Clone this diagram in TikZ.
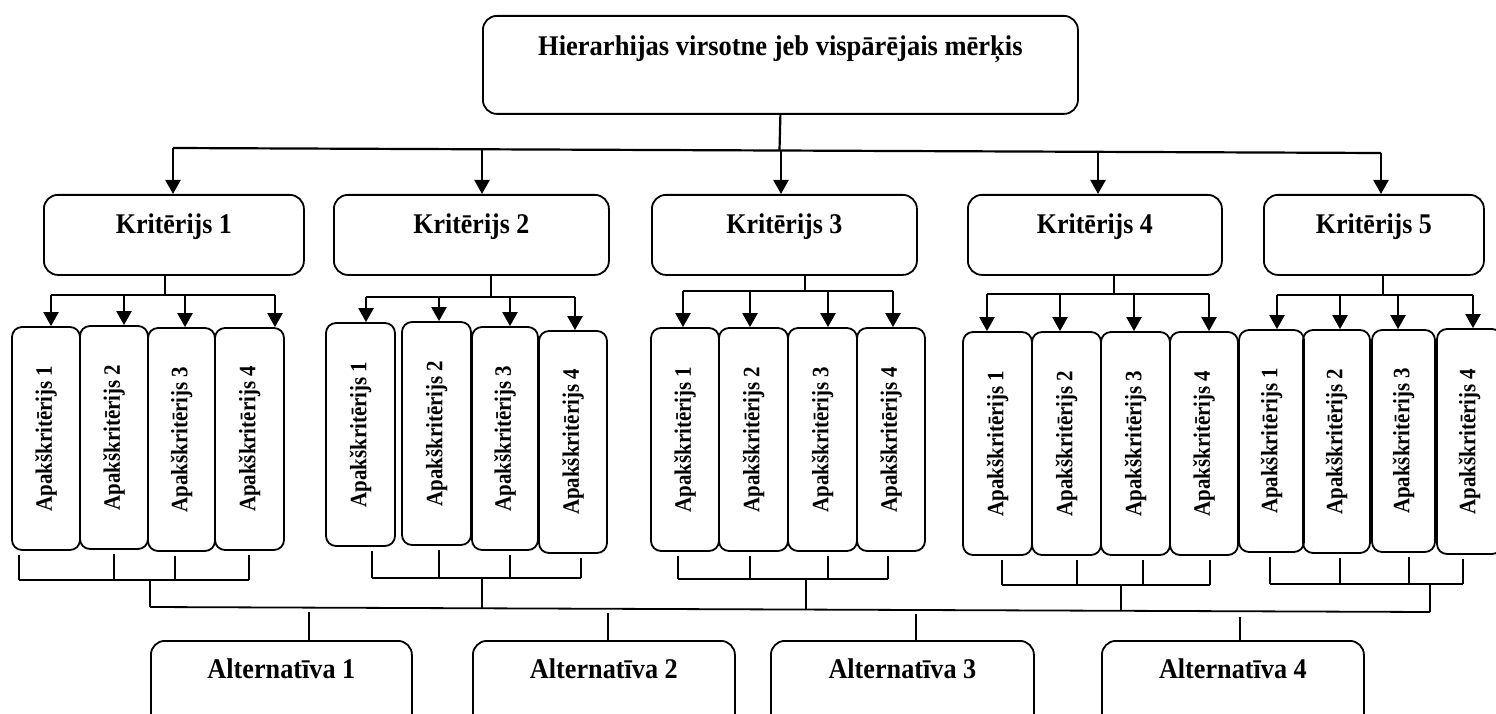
\documentclass[tikz,border=0pt]{standalone}
\usepackage{fontspec}
\usepackage{graphicx}
\setmainfont{Liberation Serif}
\usetikzlibrary{arrows.meta}
% narrow bold lettering used for all labels
\newcommand{\narrow}[2][0.9]{\scalebox{#1}[1]{#2}}
\begin{document}
\begin{tikzpicture}[x=1pt,y=-1pt,
  box/.style={draw, line width=1.8pt, rounded corners=14pt, inner xsep=0pt, inner ysep=0pt,
              anchor=north west, font=\fontsize{28.5}{32}\selectfont\bfseries},
  subbox/.style={draw, line width=1.8pt, rounded corners=10pt, inner sep=0pt, rotate=90,
                 font=\fontsize{23.5}{26}\selectfont\bfseries},
  bus/.style={line width=2.2pt},
  link/.style={line width=1.6pt},
  arr/.style={line width=2.4pt, -{Triangle[length=14pt,width=15pt]}},
]
\useasboundingbox (0,0) rectangle (1496,714);
\clip (0,0) rectangle (1496,714);

% goal
\node[box, minimum width=595pt, text height=40pt, text depth=58pt] (goal) at (482,15)
  {\narrow[0.93]{Hierarhijas virsotne jeb vispārējais mērķis}};

% criteria
\foreach \i/\l/\r in {1/43/303, 2/333/608, 3/651/916, 4/967/1221, 5/1263/1483}
  \node[box, minimum width={(\r-\l)*1pt}, text height=39pt, text depth=41pt] (k\i) at (\l,194)
    {\narrow[0.91]{Kritērijs \i}};

% sub-criteria (left, right, top, bottom)
\foreach \i/\j/\l/\r/\t/\b in {
  1/1/12/80/327/550, 1/2/80/148/326/549, 1/3/148/215/328/551, 1/4/215/284/328/550,
  2/1/326/395/323/546, 2/2/402/471/322/545, 2/3/472/538/327/550, 2/4/539/607/331/553,
  3/1/651/719/328/551, 3/2/719/788/328/551, 3/3/788/857/328/551, 3/4/857/925/328/551,
  4/1/963/1032/332/555, 4/2/1032/1101/332/555, 4/3/1101/1170/332/555, 4/4/1170/1238/332/555,
  5/1/1239/1304/330/552, 5/2/1303/1370/330/553, 5/3/1372/1435/330/552, 5/4/1437/1502/329/554}
  \node[subbox, minimum width={(\b-\t)*1pt}, minimum height={(\r-\l)*1pt}] (s\i\j)
    at ({(\l+\r)/2},{(\t+\b)/2}) {\narrow[0.89]{Apakškritērijs \j}};

% alternatives
\foreach \i/\l/\r in {1/150/411, 2/472/734, 3/770/1033, 4/1101/1363}
  \node[box, minimum width={(\r-\l)*1pt}, text height=38pt, text depth=60pt] (a\i) at (\l,640)
    {\narrow[0.92]{Alternatīva \i}};

% goal -> criteria
\coordinate (tb) at (779.5,150);
\draw[bus] (goal.south) -- (tb);
\foreach \i/\x/\y in {1/173/148, 2/482/149.3, 3/781/150.5, 4/1098/151.8, 5/1381/153}
  \coordinate (t\i) at (\x,\y);
\draw[bus] (t1) -- (t5);
\foreach \i in {1,...,5}
  \draw[arr] (t\i) -- (t\i |- k\i.north);

% criteria -> sub-criteria
\foreach \i/\sx/\sy/\xa/\xb/\xc/\xd in {
  1/165/295/51/124/185/275, 2/491/297/366/439/510/575, 3/805/291/683/750/828/893,
  4/1114/294/987/1060/1134/1209, 5/1383/295/1277/1340/1398/1473}
{
  \coordinate (j\i) at (\sx,\sy);
  \draw[link, line width=1.8pt] (k\i.south -| j\i) -- (j\i);
  \foreach \j/\x in {1/\xa, 2/\xb, 3/\xc, 4/\xd}
    \coordinate (p\i\j) at (\x,\sy);
  \draw[bus] (p\i1) -- (p\i4);
  \foreach \j in {1,...,4}
    \draw[arr] (p\i\j) -- (p\i\j |- s\i\j.east);
}

% sub-criteria -> brackets -> common line
\foreach \i/\y/\sx/\sy/\xa/\xb/\xc/\xd in {
  1/580/150/607/19/114/175/249, 2/578/482/608.3/372/439/510/581,
  3/579/806/609.6/678/750/828/888, 4/585/1121/610.8/1002/1077/1143/1210,
  5/584/1430/612/1270/1340/1409/1463}
{
  \foreach \j/\x in {1/\xa, 2/\xb, 3/\xc, 4/\xd}
    \coordinate (q\i\j) at (\x,\y);
  \draw[link] (q\i1) -- (q\i4);
  \foreach \j in {1,...,4} {
    \coordinate (e\i\j) at ([yshift=-4pt]s\i\j.west);
    \draw[link] (e\i\j -| q\i\j) -- (q\i\j);
  }
  \coordinate (c\i) at (\sx,\y);
  \coordinate (n\i) at (\sx,\sy);
  \draw[link] (c\i) -- (n\i);
}
\draw[link, line width=1.8pt] (n1) -- (n5);

% common line -> alternatives
\foreach \i/\x/\y in {1/309/612, 2/608/613, 3/916/614, 4/1240/617}
{
  \coordinate (m\i) at (\x,\y);
  \draw[link] (m\i) -- (m\i |- a\i.north);
}
\end{tikzpicture}
\end{document}
